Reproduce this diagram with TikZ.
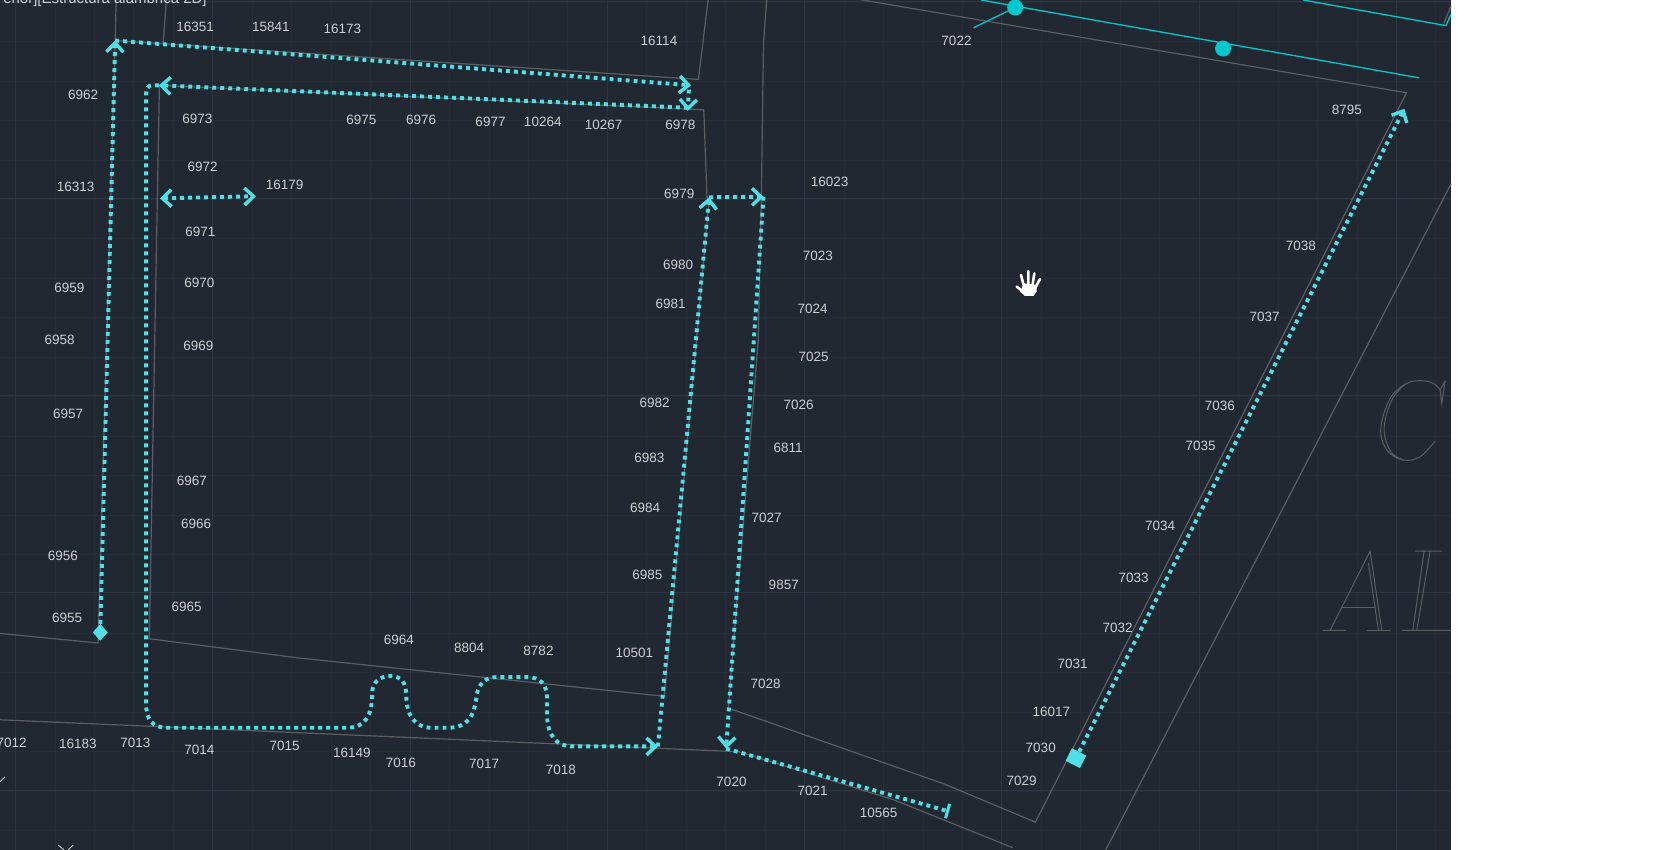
\documentclass[tikz,border=0pt]{standalone}
\usepackage{xcolor}
\usepackage{fontspec}
\usepackage{tikz}
\usetikzlibrary{shapes.geometric, arrows.meta, positioning, calc}
\setsansfont{Liberation Sans}
\newfontfamily\cadfont{Liberation Sans}
\definecolor{CADPanel}{RGB}{33, 40, 49}
\definecolor{CADMajor}{RGB}{46, 53, 66}
\definecolor{CADMinor}{RGB}{38, 45, 55}
\definecolor{CADWall}{RGB}{92, 94, 98}
\definecolor{CADLabel}{RGB}{205, 207, 209}
\definecolor{CADRoute}{RGB}{78, 224, 230}
\definecolor{CADTeal}{RGB}{0, 200, 205}
\tikzset{
  wall/.style={draw=CADWall, line width=1.2pt},
  glyphline/.style={draw=CADWall, line width=1pt},
  tealline/.style={draw=CADTeal, line width=1.3pt},
  route/.style={draw=CADRoute, line width=3.9pt, dash pattern=on 3.9pt off 4.1pt},
  cadlabel/.style={text=CADLabel, inner sep=0pt, font=\cadfont\fontsize{13.5}{14}\selectfont}
}

\begin{document}
\begin{tikzpicture}[x=1.0663pt, y=-1.0663pt,
    barbtip/.tip={Straight Barb[length=9pt, width=17pt, line width=3.4pt]}]
    \useasboundingbox (0,0) rectangle (1568,797);
    \fill[white] (0,0) rectangle (1568,797);
    \begin{scope}
    \clip (0,0) rectangle (1361,797);
    \fill[CADPanel] (0,0) rectangle (1361,797);

    % grid
    \foreach \gridx in {14.5,51.5,...,1361} \draw[CADMinor, line width=0.8pt] (\gridx,0) -- (\gridx,797);
    \foreach \gridy in {2,39,...,797} \draw[CADMinor, line width=0.8pt] (0,\gridy) -- (1361,\gridy);
    \foreach \gridx in {14.5,199.5,...,1361} \draw[CADMajor, line width=1pt] (\gridx,0) -- (\gridx,797);
    \foreach \gridy in {1,186,...,797} \draw[CADMajor, line width=1pt] (0,\gridy) -- (1361,\gridy);

    % walls
    \draw[wall] (0,594) -- (92,603) -- (108,38) -- (109,0);
    \draw[wall] (108,38) -- (655,74.5) -- (664,0);
    \draw[wall] (156,0) -- (153,41);
    \draw[wall] (660,103) -- (149.5,80) -- (140,599) -- (280,617) -- (623,653) -- (665,187) -- (663,185) -- (660,103);
    \draw[wall] (0,675) -- (693,705) -- (838,750) -- (950,795);
    \draw[wall] (719,0) -- (716,40) -- (714,185) -- (711,320) -- (683,664) -- (885,735) -- (971,771) -- (1319,87) -- (803,-1);
    \draw[wall] (1361,172) -- (1037,797);
    \draw[wall] (1354,22) -- (1361,5);
    \draw[CADLabel, line width=0.9pt] (0,733) -- (4.7,728.6);
    \draw[CADLabel, line width=0.9pt] (54.6,792.5) -- (60,797) (68.7,792.5) -- (63.8,797);

    % outline lettering
    \begin{scope}[shift={(1078.5,318.9)}, x=0.3334pt, y=-0.3334pt]
      \draw[glyphline] (885,122) -- (875,190) -- (870,150);
      \draw[glyphline] plot[smooth, tension=0.6] coordinates {(870,150) (850,130) (815,122) (770,130) (720,175) (692,265) (710,330) (760,360) (810,350) (855,303)};
      \draw[glyphline] (870,150) -- (885,122);
      \draw[glyphline] plot[smooth, tension=0.6] coordinates {(765,132) (725,180) (702,265) (722,335) (760,360)};
      \draw[glyphline] (518,871) -- (587,871) (540,871) -- (660,633) -- (695,871) (655,668) -- (685,871);
      \draw[glyphline] (575,802) -- (675,802) (650,871) -- (722,871);
      \draw[glyphline] (795,633) -- (875,633) (788,871) -- (822,633) (800,871) -- (840,633) (755,871) -- (903,871);
    \end{scope}

    % teal line work
    \draw[tealline] (920,0) -- (1331,73);
    \draw[tealline] (1222,0) -- (1356,24) -- (1361,13);
    \draw[tealline] (913,26) -- (946,10);
    \fill[CADTeal] (952,7) circle (8pt) (1147,45.5) circle (8pt);

    % hand cursor
    \begin{scope}[shift={(937.8,243.8)}, x=0.3334pt, y=-0.3334pt]
      \fill[white] (60,95) -- (72,70) -- (110,75) -- (110,95) -- (100,108) -- (75,108) -- cycle;
      \draw[white, line width=2.6pt, line cap=round] (70,95) -- (50,80) (72,80) -- (63,45) (85,75) -- (85,33) (97,78) -- (103,40) (105,85) -- (120,57);
    \end{scope}

    % route points
    \node[diamond, fill=CADRoute, inner sep=0pt, minimum width=15pt, minimum height=17pt] (startdiamond) at (94,593) {};
    \node[rectangle, rotate=-27, fill=CADRoute, inner sep=0pt, minimum width=16pt, minimum height=14pt] (startsquare) at (1009,711) {};
    \coordinate (outerup) at (108,38);
    \coordinate (outerright) at (648,80);
    \coordinate (downstub) at (646,84);
    \coordinate (innerright) at (645,104);
    \coordinate (innerstart) at (645,101);
    \coordinate (innerleft) at (149,80);
    \coordinate (serpentend) at (617,700);
    \coordinate (riseend) at (665,185);
    \coordinate (crossend) at (716,184.5);
    \coordinate (dropend) at (681,702);
    \coordinate (wallend) at (890,761);
    \coordinate (farend) at (1317,102);
    \coordinate (shortleft) at (150,186);
    \coordinate (shortright) at (240,184);

    % routes
    \draw[route, -barbtip] (startdiamond) -- (outerup);
    \draw[route, -barbtip] (outerup) -- (outerright);
    \draw[route, -barbtip] (downstub) -- (innerright);
    \draw[route, -barbtip] (innerstart) -- (innerleft);
    \draw[route, -barbtip] (innerleft) -- (143,80) .. controls (139,80) and (137,83) .. (137,88) -- (137,660)
      .. controls (137,675) and (143,682.5) .. (157,682.5) -- (325,682.5)
      .. controls (342,682.5) and (349,672) .. (349,650) .. controls (349,640) and (356,634) .. (366,634)
      .. controls (376,634) and (381,640) .. (381,652) .. controls (381,672) and (390,682.5) .. (405,682.5) -- (420,682.5)
      .. controls (438,682.5) and (445,672) .. (447,652) .. controls (449,640) and (456,635) .. (466,635) -- (494,635)
      .. controls (507,635) and (513,642) .. (513,655) -- (513,672) .. controls (514,690) and (522,700) .. (537,700) -- (serpentend);
    \draw[route, -barbtip] (serpentend) -- (riseend);
    \draw[route, -barbtip] (riseend) -- (crossend);
    \draw[route, -barbtip] (crossend) -- (dropend);
    \draw[route, -{Bar[width=15pt, line width=3pt]}] (dropend) -- (wallend);
    \draw[route, -barbtip] (startsquare) -- (farend);
    \draw[route, barbtip-barbtip] (shortleft) -- (shortright);

    % labels
    \node[text=CADLabel, inner sep=0pt, anchor=base east, font=\sffamily\fontsize{15}{16}\selectfont] (viewtag) at (194,3) {erior][Estructura alámbrica 2D]};
    \foreach \labx/\laby/\labtxt in {
      183/25/16351, 254/25/15841, 321/27/16173, 618/38/16114, 897/38/7022, 78/89/6962,
      185/111/6973, 339/112/6975, 395/112/6976, 460/114/6977, 509/114/10264, 566/117/10267,
      638/117/6978, 190/156/6972, 71/175/16313, 267/173/16179, 637/182/6979, 778/171/16023,
      188/217/6971, 767/240/7023, 636/248/6980, 187/265/6970, 65/270/6959, 629/285/6981,
      762/290/7024, 56/319/6958, 186/324/6969, 763/335/7025, 614/378/6982, 749/380/7026,
      64/388/6957, 1144/381/7036, 1126/418/7035, 739/420/6811, 609/429/6983, 180/451/6967,
      605/476/6984, 719/486/7027, 184/491/6966, 1088/493/7034, 59/521/6956, 607/539/6985,
      1063/542/7033, 735/548/9857, 175/569/6965, 63/579/6955, 1048/589/7032, 374/600/6964,
      440/608/8804, 505/610/8782, 595/612/10501, 1006/623/7031, 718/641/7028, 986/668/16017,
      11/697/7012, 73/698/16183, 127/697/7013, 187/703/7014, 267/699/7015, 330/706/16149,
      376/715/7016, 454/716/7017, 526/722/7018, 976/701/7030, 686/733/7020, 762/742/7021,
      824/762/10565, 958/732/7029, 1263/103/8795, 1220/231/7038, 1186/297/7037}
      \node[cadlabel] (num\labtxt) at (\labx,\laby) {\labtxt};
    \end{scope}
  \end{tikzpicture}
\end{document}
